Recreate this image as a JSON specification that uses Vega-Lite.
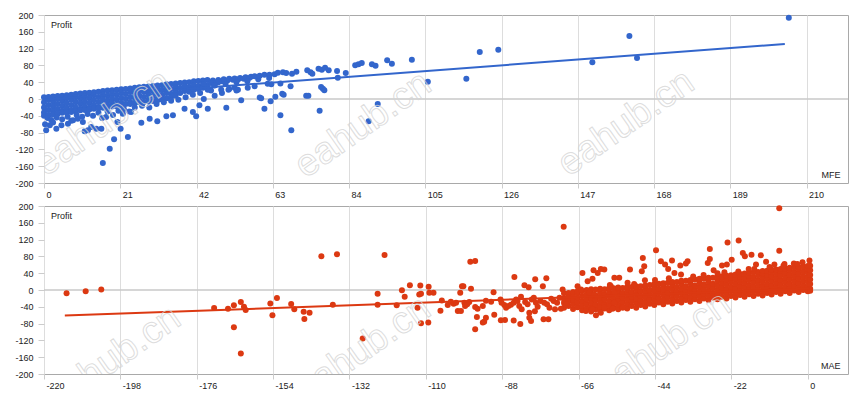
{
  "$schema": "https://vega.github.io/schema/vega-lite/v6.json",
  "padding": {"left": 14, "top": 10, "right": 5, "bottom": 5},
  "background": "white",
  "config": {
    "font": "Liberation Sans",
    "view": {"stroke": "#a9a9a9", "strokeWidth": 1},
    "axis": {
      "labelFontSize": 9,
      "labelColor": "#222222",
      "labelOverlap": false,
      "gridColor": "#dddddd",
      "tickColor": "#cccccc",
      "tickCount": 11,
      "domain": false,
      "titleFontSize": 9,
      "titleFontWeight": "normal",
      "titleColor": "#222222"
    }
  },
  "spacing": 1,
  "datasets": {
    "mfe": [
      {"x":0,"y":4},{"x":0,"y":-8},{"x":0,"y":-20},{"x":0,"y":-32},{"x":0,"y":-40},
      {"x":1.25,"y":5},{"x":1.25,"y":-2},{"x":1.25,"y":-14},{"x":1.25,"y":-26},{"x":1.25,"y":-38},
      {"x":2.5,"y":6},{"x":2.5,"y":-6},{"x":2.5,"y":-18},{"x":2.5,"y":-30},{"x":2.5,"y":-37},
      {"x":3.75,"y":7},{"x":3.75,"y":0},{"x":3.75,"y":-12},{"x":3.75,"y":-24},{"x":3.75,"y":-35},
      {"x":5,"y":8},{"x":5,"y":-4},{"x":5,"y":-16},{"x":5,"y":-28},{"x":5,"y":-33},
      {"x":6.25,"y":9},{"x":6.25,"y":2},{"x":6.25,"y":-10},{"x":6.25,"y":-22},{"x":6.25,"y":-32},
      {"x":7.5,"y":10},{"x":7.5,"y":-2},{"x":7.5,"y":-14},{"x":7.5,"y":-26},{"x":7.5,"y":-31},
      {"x":8.75,"y":12},{"x":8.75,"y":4},{"x":8.75,"y":-8},{"x":8.75,"y":-20},{"x":8.75,"y":-29},
      {"x":10,"y":13},{"x":10,"y":1},{"x":10,"y":-11},{"x":10,"y":-23},{"x":10,"y":-27},
      {"x":11.25,"y":14},{"x":11.25,"y":6},{"x":11.25,"y":-6},{"x":11.25,"y":-18},{"x":11.25,"y":-26},
      {"x":12.5,"y":15},{"x":12.5,"y":3},{"x":12.5,"y":-9},{"x":12.5,"y":-21},{"x":12.5,"y":-25},
      {"x":13.75,"y":16},{"x":13.75,"y":9},{"x":13.75,"y":-3},{"x":13.75,"y":-15},{"x":13.75,"y":-23},
      {"x":15,"y":17},{"x":15,"y":5},{"x":15,"y":-7},{"x":15,"y":-19},{"x":15,"y":-22},
      {"x":16.25,"y":19},{"x":16.25,"y":11},{"x":16.25,"y":-1},{"x":16.25,"y":-13},{"x":16.25,"y":-21},
      {"x":17.5,"y":20},{"x":17.5,"y":8},{"x":17.5,"y":-4},{"x":17.5,"y":-16},{"x":17.5,"y":-20},
      {"x":18.75,"y":21},{"x":18.75,"y":13},{"x":18.75,"y":1},{"x":18.75,"y":-11},{"x":18.75,"y":-18},
      {"x":20,"y":22},{"x":20,"y":10},{"x":20,"y":-2},{"x":20,"y":-14},{"x":20,"y":-17},
      {"x":21.25,"y":23},{"x":21.25,"y":15},{"x":21.25,"y":3},{"x":21.25,"y":-9},{"x":21.25,"y":-15},
      {"x":22.5,"y":24},{"x":22.5,"y":12},{"x":22.5,"y":0},{"x":22.5,"y":-12},
      {"x":23.75,"y":25},{"x":23.75,"y":17},{"x":23.75,"y":5},{"x":23.75,"y":-7},{"x":23.75,"y":-12},
      {"x":25,"y":27},{"x":25,"y":15},{"x":25,"y":3},{"x":25,"y":-9},
      {"x":26.25,"y":28},{"x":26.25,"y":20},{"x":26.25,"y":8},{"x":26.25,"y":-4},{"x":26.25,"y":-8},
      {"x":27.5,"y":29},{"x":27.5,"y":17},{"x":27.5,"y":5},{"x":27.5,"y":-7},
      {"x":28.75,"y":30},{"x":28.75,"y":22},{"x":28.75,"y":10},{"x":28.75,"y":-2},{"x":28.75,"y":-6},
      {"x":30,"y":31},{"x":30,"y":19},{"x":30,"y":7},{"x":30,"y":-5},
      {"x":31.25,"y":32},{"x":31.25,"y":24},{"x":31.25,"y":12},{"x":31.25,"y":0},{"x":31.25,"y":-3},
      {"x":32.5,"y":33},{"x":32.5,"y":21},{"x":32.5,"y":9},{"x":32.5,"y":-1},
      {"x":33.75,"y":35},{"x":33.75,"y":26},{"x":33.75,"y":14},{"x":33.75,"y":2},
      {"x":35,"y":36},{"x":35,"y":24},{"x":35,"y":12},{"x":35,"y":5},
      {"x":36.25,"y":37},{"x":36.25,"y":28},{"x":36.25,"y":17},{"x":36.25,"y":8},
      {"x":37.5,"y":38},{"x":37.5,"y":26},{"x":37.5,"y":14},
      {"x":38.75,"y":39},{"x":38.75,"y":30},{"x":38.75,"y":19},
      {"x":40,"y":40},{"x":40,"y":28},{"x":40,"y":17},
      {"x":41.25,"y":42},{"x":41.25,"y":32},{"x":41.25,"y":22},
      {"x":42.5,"y":43},{"x":42.5,"y":31},{"x":42.5,"y":24},
      {"x":43.75,"y":44},{"x":43.75,"y":34},{"x":43.75,"y":27},
      {"x":45,"y":45},{"x":45,"y":33},
      {"x":1,"y":-45},{"x":2,"y":-50},{"x":3.5,"y":-44},{"x":5,"y":-48},{"x":6.5,"y":-42},{"x":7.5,"y":-52},{"x":9,"y":-38},{"x":10.5,"y":-42},{"x":12,"y":-36},{"x":13.5,"y":-40},{"x":15,"y":-33},{"x":16,"y":-45},{"x":17.5,"y":-30},{"x":19,"y":-38},{"x":20.5,"y":-28},{"x":22,"y":-24},{"x":23.5,"y":-30},{"x":25,"y":-20},{"x":27,"y":-16},{"x":29,"y":-20},{"x":31,"y":-12},{"x":33,"y":-8},{"x":35,"y":-4},{"x":37,"y":-2},{"x":39,"y":4},{"x":41,"y":10},{"x":43,"y":14},{"x":44,"y":0},{"x":46,"y":20},{"x":47,"y":8},{"x":49,"y":14},{"x":51,"y":24},{"x":53,"y":20},
      {"x":0.6,"y":-74.5},{"x":1.6,"y":-62.6},{"x":3.4,"y":-70.6},{"x":4.8,"y":-62.6},{"x":6.6,"y":-58.7},{"x":8,"y":-50.7},{"x":9.3,"y":-46.8},{"x":10.7,"y":-54.7},{"x":11.2,"y":-77},{"x":12.1,"y":-74.5},{"x":13,"y":-66.6},{"x":14.4,"y":-70.6},{"x":15.8,"y":-70.6},{"x":17.1,"y":-42.8},{"x":18.1,"y":-118.2},{"x":19.3,"y":-96},{"x":20.2,"y":-54.7},{"x":21.1,"y":-70.6},{"x":23.1,"y":-90.4},{"x":16.2,"y":-152.3},{"x":21.7,"y":-34.9},{"x":24,"y":-30.9},{"x":26.8,"y":-56.3},{"x":29.1,"y":-46.8},{"x":31.2,"y":-53.1},{"x":33.7,"y":-41.2},{"x":35.5,"y":-38.8},{"x":38.7,"y":-23},{"x":41,"y":-30.9},{"x":41.9,"y":-41.2},{"x":42.8,"y":-15},{"x":45.1,"y":-23},{"x":50.2,"y":-20.6},{"x":54.3,"y":-3.1},{"x":59.4,"y":3.3},{"x":0.3,"y":-60},{"x":2.5,"y":-56},
      {"x":46.5,"y":44},{"x":47.5,"y":40},{"x":48,"y":45},{"x":49,"y":42},{"x":49.5,"y":47},{"x":50.5,"y":44},{"x":51,"y":48},{"x":52,"y":46},{"x":52.5,"y":49},{"x":53.5,"y":47},{"x":54,"y":50},{"x":55,"y":48},{"x":55.5,"y":52},{"x":56.5,"y":50},{"x":57,"y":53},
      {"x":44,"y":36},{"x":46,"y":38},{"x":47,"y":32},{"x":48,"y":40},{"x":50,"y":36},{"x":53,"y":40},{"x":56,"y":42},{"x":59,"y":47},{"x":62,"y":50},
      {"x":45.1,"y":22.3},{"x":46.9,"y":32.6},{"x":48.8,"y":22.3},{"x":52.5,"y":27},{"x":53.4,"y":22.3},{"x":56.1,"y":27},{"x":58,"y":30.2},{"x":61.6,"y":36.6},{"x":50.8,"y":22.3},
      {"x":58,"y":54},{"x":59.4,"y":55.6},{"x":60.7,"y":58},{"x":62.1,"y":58},{"x":63.5,"y":58.8},{"x":64.4,"y":62.7},{"x":65.8,"y":63.5},{"x":66.7,"y":62},{"x":68.3,"y":60.3},{"x":69.5,"y":65},{"x":72.5,"y":68.3},{"x":73.4,"y":63.5},{"x":73.9,"y":60.3},{"x":75.6,"y":72.3},{"x":76.5,"y":69.9},{"x":77.4,"y":74.6},{"x":78.4,"y":68.3},{"x":80.7,"y":66.7},{"x":80.9,"y":50.8},{"x":83.1,"y":61.9},{"x":85.7,"y":80.2},{"x":86.6,"y":82.6},{"x":87.5,"y":85.8},{"x":90.3,"y":82.6},{"x":91.3,"y":79.4},{"x":94.5,"y":92.1},{"x":95.8,"y":84.2},{"x":101.3,"y":93.7},{"x":105.7,"y":41.3},{"x":116.3,"y":48.4},{"x":120,"y":112},{"x":125.1,"y":117.5},
      {"x":59.8,"y":1.6},{"x":60.7,"y":-23},{"x":62.4,"y":-5.5},{"x":63.7,"y":5.6},{"x":62.6,"y":35},{"x":65.1,"y":-38.9},{"x":65.6,"y":12.7},{"x":66,"y":10.3},{"x":67.9,"y":30.2},{"x":68.1,"y":-74.6},{"x":72.2,"y":8},{"x":72.8,"y":8},{"x":75.9,"y":-27.7},{"x":76.3,"y":28.6},{"x":76.8,"y":24.6},{"x":77.2,"y":20.7},{"x":89.4,"y":-53.1},{"x":91.9,"y":-11.9},{"x":65.1,"y":36.7},
      {"x":151,"y":87.4},{"x":161.2,"y":150},{"x":163.3,"y":97.7},{"x":205.1,"y":193.7}
    ],
    "mfeTrend": [{"x":0,"y":-2},{"x":204,"y":131}],
    "mae": [
      {"x":-70.2,"y":-42},{"x":-70.2,"y":-31},{"x":-70.2,"y":-20},{"x":-70.2,"y":-8},
      {"x":-68.9,"y":-38},{"x":-68.9,"y":-27},{"x":-68.9,"y":-16},{"x":-68.9,"y":-7},
      {"x":-67.6,"y":-45},{"x":-67.6,"y":-34},{"x":-67.6,"y":-23},{"x":-67.6,"y":-12},{"x":-67.6,"y":-5},
      {"x":-66.3,"y":-41},{"x":-66.3,"y":-30},{"x":-66.3,"y":-19},{"x":-66.3,"y":-8},{"x":-66.3,"y":-3},
      {"x":-65,"y":-48},{"x":-65,"y":-37},{"x":-65,"y":-26},{"x":-65,"y":-15},{"x":-65,"y":-3},
      {"x":-63.7,"y":-44},{"x":-63.7,"y":-33},{"x":-63.7,"y":-22},{"x":-63.7,"y":-11},{"x":-63.7,"y":0},
      {"x":-62.4,"y":-51},{"x":-62.4,"y":-40},{"x":-62.4,"y":-29},{"x":-62.4,"y":-18},{"x":-62.4,"y":-7},{"x":-62.4,"y":2},
      {"x":-61.1,"y":-46},{"x":-61.1,"y":-35},{"x":-61.1,"y":-24},{"x":-61.1,"y":-13},{"x":-61.1,"y":1},
      {"x":-59.8,"y":-50},{"x":-59.8,"y":-39},{"x":-59.8,"y":-28},{"x":-59.8,"y":-17},{"x":-59.8,"y":-6},{"x":-59.8,"y":3},
      {"x":-58.5,"y":-44},{"x":-58.5,"y":-33},{"x":-58.5,"y":-22},{"x":-58.5,"y":-11},{"x":-58.5,"y":2},
      {"x":-57.2,"y":-48},{"x":-57.2,"y":-37},{"x":-57.2,"y":-26},{"x":-57.2,"y":-15},{"x":-57.2,"y":-4},{"x":-57.2,"y":4},
      {"x":-55.9,"y":-42},{"x":-55.9,"y":-31},{"x":-55.9,"y":-20},{"x":-55.9,"y":-9},{"x":-55.9,"y":4},
      {"x":-54.6,"y":-46},{"x":-54.6,"y":-35},{"x":-54.6,"y":-24},{"x":-54.6,"y":-13},{"x":-54.6,"y":-2},{"x":-54.6,"y":6},
      {"x":-53.3,"y":-40},{"x":-53.3,"y":-29},{"x":-53.3,"y":-18},{"x":-53.3,"y":-7},{"x":-53.3,"y":5},
      {"x":-52,"y":-44},{"x":-52,"y":-33},{"x":-52,"y":-22},{"x":-52,"y":-11},{"x":-52,"y":0},{"x":-52,"y":7},
      {"x":-50.7,"y":-38},{"x":-50.7,"y":-27},{"x":-50.7,"y":-16},{"x":-50.7,"y":-5},{"x":-50.7,"y":7},
      {"x":-49.4,"y":-42},{"x":-49.4,"y":-31},{"x":-49.4,"y":-20},{"x":-49.4,"y":-9},{"x":-49.4,"y":2},{"x":-49.4,"y":9},
      {"x":-48.1,"y":-36},{"x":-48.1,"y":-25},{"x":-48.1,"y":-14},{"x":-48.1,"y":-3},{"x":-48.1,"y":9},
      {"x":-46.8,"y":-39},{"x":-46.8,"y":-28},{"x":-46.8,"y":-17},{"x":-46.8,"y":-6},{"x":-46.8,"y":5},{"x":-46.8,"y":11},
      {"x":-45.5,"y":-33},{"x":-45.5,"y":-22},{"x":-45.5,"y":-11},{"x":-45.5,"y":0},{"x":-45.5,"y":12},
      {"x":-44.2,"y":-36},{"x":-44.2,"y":-25},{"x":-44.2,"y":-14},{"x":-44.2,"y":-3},{"x":-44.2,"y":8},{"x":-44.2,"y":14},
      {"x":-42.9,"y":-30},{"x":-42.9,"y":-19},{"x":-42.9,"y":-8},{"x":-42.9,"y":3},{"x":-42.9,"y":15},
      {"x":-41.6,"y":-34},{"x":-41.6,"y":-23},{"x":-41.6,"y":-12},{"x":-41.6,"y":-1},{"x":-41.6,"y":10},{"x":-41.6,"y":16},
      {"x":-40.3,"y":-28},{"x":-40.3,"y":-17},{"x":-40.3,"y":-6},{"x":-40.3,"y":5},{"x":-40.3,"y":17},
      {"x":-39,"y":-32},{"x":-39,"y":-21},{"x":-39,"y":-10},{"x":-39,"y":1},{"x":-39,"y":12},{"x":-39,"y":19},
      {"x":-37.7,"y":-26},{"x":-37.7,"y":-15},{"x":-37.7,"y":-4},{"x":-37.7,"y":7},{"x":-37.7,"y":19},
      {"x":-36.4,"y":-30},{"x":-36.4,"y":-19},{"x":-36.4,"y":-8},{"x":-36.4,"y":3},{"x":-36.4,"y":14},{"x":-36.4,"y":22},
      {"x":-35.1,"y":-24},{"x":-35.1,"y":-13},{"x":-35.1,"y":-2},{"x":-35.1,"y":9},{"x":-35.1,"y":22},
      {"x":-33.8,"y":-28},{"x":-33.8,"y":-17},{"x":-33.8,"y":-6},{"x":-33.8,"y":5},{"x":-33.8,"y":16},{"x":-33.8,"y":24},
      {"x":-32.5,"y":-22},{"x":-32.5,"y":-11},{"x":-32.5,"y":0},{"x":-32.5,"y":11},{"x":-32.5,"y":25},
      {"x":-31.2,"y":-26},{"x":-31.2,"y":-15},{"x":-31.2,"y":-4},{"x":-31.2,"y":7},{"x":-31.2,"y":18},{"x":-31.2,"y":27},
      {"x":-29.9,"y":-20},{"x":-29.9,"y":-9},{"x":-29.9,"y":2},{"x":-29.9,"y":13},{"x":-29.9,"y":27},
      {"x":-28.6,"y":-24},{"x":-28.6,"y":-13},{"x":-28.6,"y":-2},{"x":-28.6,"y":9},{"x":-28.6,"y":20},{"x":-28.6,"y":29},
      {"x":-27.3,"y":-18},{"x":-27.3,"y":-7},{"x":-27.3,"y":4},{"x":-27.3,"y":15},{"x":-27.3,"y":29},
      {"x":-26,"y":-22},{"x":-26,"y":-11},{"x":-26,"y":0},{"x":-26,"y":11},{"x":-26,"y":22},{"x":-26,"y":32},
      {"x":-24.7,"y":-16},{"x":-24.7,"y":-5},{"x":-24.7,"y":6},{"x":-24.7,"y":17},{"x":-24.7,"y":28},{"x":-24.7,"y":33},
      {"x":-23.4,"y":-20},{"x":-23.4,"y":-9},{"x":-23.4,"y":2},{"x":-23.4,"y":13},{"x":-23.4,"y":24},{"x":-23.4,"y":34},
      {"x":-22.1,"y":-14},{"x":-22.1,"y":-3},{"x":-22.1,"y":8},{"x":-22.1,"y":19},{"x":-22.1,"y":30},{"x":-22.1,"y":35},
      {"x":-20.8,"y":-18},{"x":-20.8,"y":-7},{"x":-20.8,"y":4},{"x":-20.8,"y":15},{"x":-20.8,"y":26},{"x":-20.8,"y":37},
      {"x":-19.5,"y":-12},{"x":-19.5,"y":-1},{"x":-19.5,"y":10},{"x":-19.5,"y":21},{"x":-19.5,"y":32},{"x":-19.5,"y":38},
      {"x":-18.2,"y":-16},{"x":-18.2,"y":-5},{"x":-18.2,"y":6},{"x":-18.2,"y":17},{"x":-18.2,"y":28},{"x":-18.2,"y":39},
      {"x":-16.9,"y":-10},{"x":-16.9,"y":1},{"x":-16.9,"y":12},{"x":-16.9,"y":23},{"x":-16.9,"y":34},{"x":-16.9,"y":41},
      {"x":-15.6,"y":-14},{"x":-15.6,"y":-3},{"x":-15.6,"y":8},{"x":-15.6,"y":19},{"x":-15.6,"y":30},{"x":-15.6,"y":42},
      {"x":-14.3,"y":-9},{"x":-14.3,"y":2},{"x":-14.3,"y":13},{"x":-14.3,"y":24},{"x":-14.3,"y":35},{"x":-14.3,"y":43},
      {"x":-13,"y":-13},{"x":-13,"y":-2},{"x":-13,"y":9},{"x":-13,"y":20},{"x":-13,"y":31},{"x":-13,"y":40},{"x":-13,"y":45},
      {"x":-11.7,"y":-7},{"x":-11.7,"y":4},{"x":-11.7,"y":15},{"x":-11.7,"y":26},{"x":-11.7,"y":37},{"x":-11.7,"y":46},
      {"x":-10.4,"y":-11},{"x":-10.4,"y":0},{"x":-10.4,"y":11},{"x":-10.4,"y":22},{"x":-10.4,"y":33},{"x":-10.4,"y":44},{"x":-10.4,"y":48},
      {"x":-9.1,"y":-5},{"x":-9.1,"y":6},{"x":-9.1,"y":17},{"x":-9.1,"y":28},{"x":-9.1,"y":39},{"x":-9.1,"y":49},
      {"x":-7.8,"y":-9},{"x":-7.8,"y":2},{"x":-7.8,"y":13},{"x":-7.8,"y":24},{"x":-7.8,"y":35},{"x":-7.8,"y":46},{"x":-7.8,"y":50},
      {"x":-6.5,"y":-3},{"x":-6.5,"y":8},{"x":-6.5,"y":19},{"x":-6.5,"y":30},{"x":-6.5,"y":41},{"x":-6.5,"y":51},
      {"x":-5.2,"y":-7},{"x":-5.2,"y":4},{"x":-5.2,"y":15},{"x":-5.2,"y":26},{"x":-5.2,"y":37},{"x":-5.2,"y":48},{"x":-5.2,"y":53},
      {"x":-3.9,"y":-1},{"x":-3.9,"y":10},{"x":-3.9,"y":21},{"x":-3.9,"y":32},{"x":-3.9,"y":43},{"x":-3.9,"y":54},
      {"x":-2.6,"y":-5},{"x":-2.6,"y":6},{"x":-2.6,"y":17},{"x":-2.6,"y":28},{"x":-2.6,"y":39},{"x":-2.6,"y":50},{"x":-2.6,"y":55},
      {"x":-1.3,"y":0},{"x":-1.3,"y":11},{"x":-1.3,"y":22},{"x":-1.3,"y":33},{"x":-1.3,"y":44},{"x":-1.3,"y":56},
      {"x":0,"y":-3},{"x":0,"y":8},{"x":0,"y":19},{"x":0,"y":30},{"x":0,"y":41},{"x":0,"y":52},{"x":0,"y":57},
      {"x":0.7,"y":-2},{"x":0.7,"y":3},{"x":0.7,"y":14},{"x":0.7,"y":25},{"x":0.7,"y":36},{"x":0.7,"y":47},{"x":0.7,"y":58},
      {"x":-8.2,"y":194.6},{"x":-8.2,"y":93.6},{"x":-19.9,"y":118},{"x":-23.1,"y":113.3},{"x":-28.2,"y":97.6},{"x":-43.7,"y":94.4},{"x":-28.2,"y":73.9},{"x":-18.7,"y":88.1},{"x":-18.1,"y":80.2},{"x":-16.2,"y":84.1},{"x":-13.5,"y":82.6},{"x":0.5,"y":70},{"x":-1.5,"y":66},{"x":-4,"y":62.8},{"x":-6.7,"y":62},{"x":-9.6,"y":60.5},{"x":-12,"y":67.5},{"x":-14.9,"y":60.5},{"x":-15.4,"y":50.2},{"x":-21.9,"y":72.3},{"x":-23.3,"y":60.5},{"x":-24.7,"y":58.1},{"x":-27.1,"y":47},{"x":-28.8,"y":64.4},{"x":-34.6,"y":68.4},{"x":-35.1,"y":62.8},{"x":-36.7,"y":58.1},{"x":-39.1,"y":70},{"x":-40.2,"y":50.2},{"x":-41.1,"y":60.5},{"x":-42.3,"y":68.4},{"x":-38.4,"y":40.7},{"x":-36.5,"y":36.8},{"x":-47.1,"y":56.5},{"x":-47.5,"y":76.3},{"x":-46.9,"y":23.4},{"x":-47.8,"y":44.7},{"x":-51.2,"y":48.6},{"x":-51.9,"y":17.1},{"x":-54.3,"y":28.9},{"x":-55.7,"y":28.9},{"x":-58.6,"y":48.6},{"x":-59.6,"y":50.2},{"x":-61.7,"y":47},{"x":-60.5,"y":40.7},{"x":-62,"y":26.5},{"x":-63.4,"y":21},{"x":-64.9,"y":40.7},{"x":-66.3,"y":9.2},{"x":-65.3,"y":1.3},{"x":-62.9,"y":-6.6},{"x":-61.5,"y":-10.5},{"x":-63.9,"y":-50},{"x":-61,"y":-60.3},{"x":-62,"y":-46},{"x":-59.6,"y":-54},{"x":-58.6,"y":-42},{"x":-56.2,"y":-44.5},{"x":-55.7,"y":-30.3},{"x":-53.3,"y":-42},{"x":-56.7,"y":9.2},{"x":-55.7,"y":-6.6},
      {"x":-30,"y":36},{"x":-26,"y":40},{"x":-20,"y":44},{"x":-17,"y":50},{"x":-11,"y":55},{"x":-7,"y":58},{"x":-3,"y":62},{"x":-33,"y":32},{"x":-44,"y":24},{"x":-40,"y":28},{"x":-50,"y":14},{"x":-57,"y":12},{"x":-24,"y":42},
      {"x":-105.8,"y":-49.2},{"x":-105.4,"y":-24.8},{"x":-103.7,"y":-35.8},{"x":-102.8,"y":-28},{"x":-102,"y":-32.7},{"x":-101.3,"y":-30.3},{"x":-100.8,"y":-50},{"x":-100.1,"y":-6.6},{"x":-99.9,"y":-50},{"x":-99.6,"y":9.2},{"x":-99.2,"y":9.2},{"x":-98.9,"y":-30.3},{"x":-98.7,"y":-38.2},{"x":-98.1,"y":-34.2},{"x":-97.5,"y":-28.7},{"x":-97.2,"y":67.5},{"x":-97,"y":2.8},{"x":-95.8,"y":69.1},{"x":-95.8,"y":-40.6},{"x":-95.3,"y":-64.2},{"x":-95.8,"y":-93.4},{"x":-95.1,"y":-44.5},{"x":-93.6,"y":-38.2},{"x":-93.6,"y":-77.6},{"x":-93.2,"y":-75.3},{"x":-92.7,"y":-65.8},{"x":-92.7,"y":-25.6},{"x":-91.2,"y":-28},{"x":-90.5,"y":-5.1},{"x":-90.3,"y":-58.7},{"x":-88.5,"y":-22.4},{"x":-88.4,"y":-72.1},{"x":-87.2,"y":-71.3},{"x":-88.2,"y":-30.3},{"x":-87.4,"y":-35.8},{"x":-86.9,"y":-42.1},{"x":-86.2,"y":-38.2},{"x":-85.5,"y":-35},{"x":-84.7,"y":-30.3},{"x":-84.5,"y":31.2},{"x":-84.7,"y":-72.9},{"x":-84,"y":-22.4},{"x":-83.6,"y":-26.4},{"x":-83.1,"y":-38.2},{"x":-82.8,"y":-80.8},{"x":-82.6,"y":-16.1},{"x":-82.4,"y":-46},{"x":-81.6,"y":11.5},{"x":-81.4,"y":-28.7},{"x":-80.7,"y":-34.2},{"x":-80.4,"y":6.8},{"x":-80.2,"y":-54},{"x":-80.2,"y":-65.8},{"x":-79.7,"y":-73.7},{"x":-79.5,"y":-22.4},{"x":-78.9,"y":-18.5},{"x":-78.5,"y":25.7},{"x":-78.6,"y":-50.8},{"x":-78.3,"y":-30.3},{"x":-77.8,"y":-39.8},{"x":-77,"y":-26.4},{"x":-76.3,"y":9.2},{"x":-76.1,"y":-69.7},{"x":-75.9,"y":-30.3},{"x":-75.3,"y":28.1},{"x":-75.1,"y":-34.2},{"x":-74.7,"y":-69.7},{"x":-74.4,"y":-42.1},{"x":-73.9,"y":-20.8},{"x":-73.2,"y":-26.4},{"x":-72.8,"y":-46},{"x":-72.2,"y":-30.3},{"x":-71.5,"y":-18.5},{"x":-71.1,"y":-44.5},{"x":-70.6,"y":1.3},{"x":-70.3,"y":150.4},{"x":-70.1,"y":-26.4},{"x":-69.6,"y":-34.2},{"x":-69.1,"y":-18.5},
      {"x":-154.8,"y":-31.9},{"x":-154.2,"y":-60.3},{"x":-152.9,"y":-19.3},{"x":-148.8,"y":-33.5},{"x":-147.9,"y":-46},{"x":-145.2,"y":-51.6},{"x":-145,"y":-69},{"x":-143.5,"y":-54},{"x":-140.1,"y":80.2},{"x":-136.8,"y":-35},{"x":-135.6,"y":84.9},{"x":-128.2,"y":-115.5},{"x":-123.9,"y":-9},{"x":-123.9,"y":-35},{"x":-121.9,"y":83.3},{"x":-118.4,"y":-36.6},{"x":-116.9,"y":-0.3},{"x":-116.1,"y":-16.1},{"x":-114.6,"y":11.5},{"x":-112.4,"y":-42.1},{"x":-111.9,"y":-10.6},{"x":-111.4,"y":-9},{"x":-111.6,"y":10.7},{"x":-111.4,"y":-79.2},{"x":-109.3,"y":-77.6},{"x":-109.2,"y":7.6},{"x":-109,"y":-6.6},{"x":-107.8,"y":-6.6},
      {"x":-213.5,"y":-8},{"x":-208,"y":-3},{"x":-203.5,"y":1},{"x":-171,"y":-43},{"x":-167,"y":-44.5},{"x":-165.3,"y":-36.6},{"x":-163.3,"y":-28.7},{"x":-162.4,"y":-39.7},{"x":-161.9,"y":-47.6},{"x":-165.3,"y":-88.6},{"x":-163.3,"y":-151}
    ],
    "maeTrend": [{"x":-214,"y":-61},{"x":0.5,"y":3.5}],
    "wmTop": [{"x":16.3,"y":-58,"t":"eahub.cn"},{"x":87.9,"y":-62,"t":"eahub.cn"},{"x":160.3,"y":-58,"t":"eahub.cn"}],
    "wmBottom": [{"x":-200.2,"y":-165,"t":"eahub.cn"},{"x":-128.2,"y":-142,"t":"eahub.cn"},{"x":-41.7,"y":-132,"t":"eahub.cn"}]
  },
  "vconcat": [
    {
      "width": 804,
      "height": 168,
      "layer": [
        {
          "data": {"values": [{"z": 0}]},
          "mark": {"type": "rule", "color": "#c8c8c8", "strokeWidth": 1.7},
          "encoding": {"y": {"datum": 0, "type": "quantitative", "scale": {"domain": [-200, 200], "nice": false, "zero": false}}}
        },
        {
          "data": {"name": "mfe"},
          "mark": {"type": "point", "filled": true, "size": 36, "opacity": 1, "color": "#3366cc"},
          "encoding": {
            "x": {"field": "x", "type": "quantitative", "scale": {"domain": [0, 221.4], "nice": false, "zero": false},
              "axis": {"title": "MFE", "titleX": 796, "titleY": -9, "titleAlign": "right", "titleBaseline": "middle", "values": [0, 21, 42, 63, 84, 105, 126, 147, 168, 189, 210], "tickCount": 11, "labelAlign": "left", "labelOffset": 2, "labelFlush": false, "labelPadding": 2, "tickSize": 5, "labelExpr": "'' + datum.value"}},
            "y": {"field": "y", "type": "quantitative", "scale": {"domain": [-200, 200], "nice": false, "zero": false},
              "axis": {"title": "Profit", "titleAngle": 0, "titleX": 6.5, "titleY": 9.5, "titleAlign": "left", "titleBaseline": "middle", "values": [-200, -160, -120, -80, -40, 0, 40, 80, 120, 160, 200], "tickCount": 11, "tickSize": 6, "labelPadding": 5, "labelExpr": "'' + datum.value"}}
          }
        },
        {
          "data": {"name": "mfeTrend"},
          "mark": {"type": "line", "color": "#3366cc", "strokeWidth": 2},
          "encoding": {
            "x": {"field": "x", "type": "quantitative", "scale": {"domain": [0, 221.4], "nice": false, "zero": false}},
            "y": {"field": "y", "type": "quantitative", "scale": {"domain": [-200, 200], "nice": false, "zero": false}}
          }
        },
        {
          "data": {"name": "wmTop"},
          "mark": {"type": "text", "clip": true, "font": "Liberation Sans", "fontSize": 38, "angle": -35, "align": "center", "baseline": "middle", "fill": "#ffffff", "fillOpacity": 0, "stroke": "#d4d4d4", "strokeWidth": 1, "strokeOpacity": 0.8},
          "encoding": {
            "x": {"field": "x", "type": "quantitative", "scale": {"domain": [0, 221.4], "nice": false, "zero": false}},
            "y": {"field": "y", "type": "quantitative", "scale": {"domain": [-200, 200], "nice": false, "zero": false}},
            "text": {"field": "t"}
          }
        }
      ]
    },
    {
      "width": 804,
      "height": 168,
      "layer": [
        {
          "data": {"values": [{"z": 0}]},
          "mark": {"type": "rule", "color": "#c8c8c8", "strokeWidth": 1.7},
          "encoding": {"y": {"datum": 0, "type": "quantitative", "scale": {"domain": [-200, 200], "nice": false, "zero": false}}}
        },
        {
          "data": {"name": "mae"},
          "mark": {"type": "point", "filled": true, "size": 36, "opacity": 1, "color": "#dc3912"},
          "encoding": {
            "x": {"field": "x", "type": "quantitative", "scale": {"domain": [-220, 11.6], "nice": false, "zero": false},
              "axis": {"title": "MAE", "titleX": 796, "titleY": -9, "titleAlign": "right", "titleBaseline": "middle", "values": [-220, -198, -176, -154, -132, -110, -88, -66, -44, -22, 0], "tickCount": 11, "labelAlign": "left", "labelOffset": 2, "labelFlush": false, "labelPadding": 2, "tickSize": 5, "labelExpr": "'' + datum.value"}},
            "y": {"field": "y", "type": "quantitative", "scale": {"domain": [-200, 200], "nice": false, "zero": false},
              "axis": {"title": "Profit", "titleAngle": 0, "titleX": 6.5, "titleY": 9.5, "titleAlign": "left", "titleBaseline": "middle", "values": [-200, -160, -120, -80, -40, 0, 40, 80, 120, 160, 200], "tickCount": 11, "tickSize": 6, "labelPadding": 5, "labelExpr": "'' + datum.value"}}
          }
        },
        {
          "data": {"name": "maeTrend"},
          "mark": {"type": "line", "color": "#dc3912", "strokeWidth": 2},
          "encoding": {
            "x": {"field": "x", "type": "quantitative", "scale": {"domain": [-220, 11.6], "nice": false, "zero": false}},
            "y": {"field": "y", "type": "quantitative", "scale": {"domain": [-200, 200], "nice": false, "zero": false}}
          }
        },
        {
          "data": {"name": "wmBottom"},
          "mark": {"type": "text", "clip": true, "font": "Liberation Sans", "fontSize": 38, "angle": -35, "align": "center", "baseline": "middle", "fill": "#ffffff", "fillOpacity": 0, "stroke": "#d4d4d4", "strokeWidth": 1, "strokeOpacity": 0.8},
          "encoding": {
            "x": {"field": "x", "type": "quantitative", "scale": {"domain": [-220, 11.6], "nice": false, "zero": false}},
            "y": {"field": "y", "type": "quantitative", "scale": {"domain": [-200, 200], "nice": false, "zero": false}},
            "text": {"field": "t"}
          }
        }
      ]
    }
  ]
}
